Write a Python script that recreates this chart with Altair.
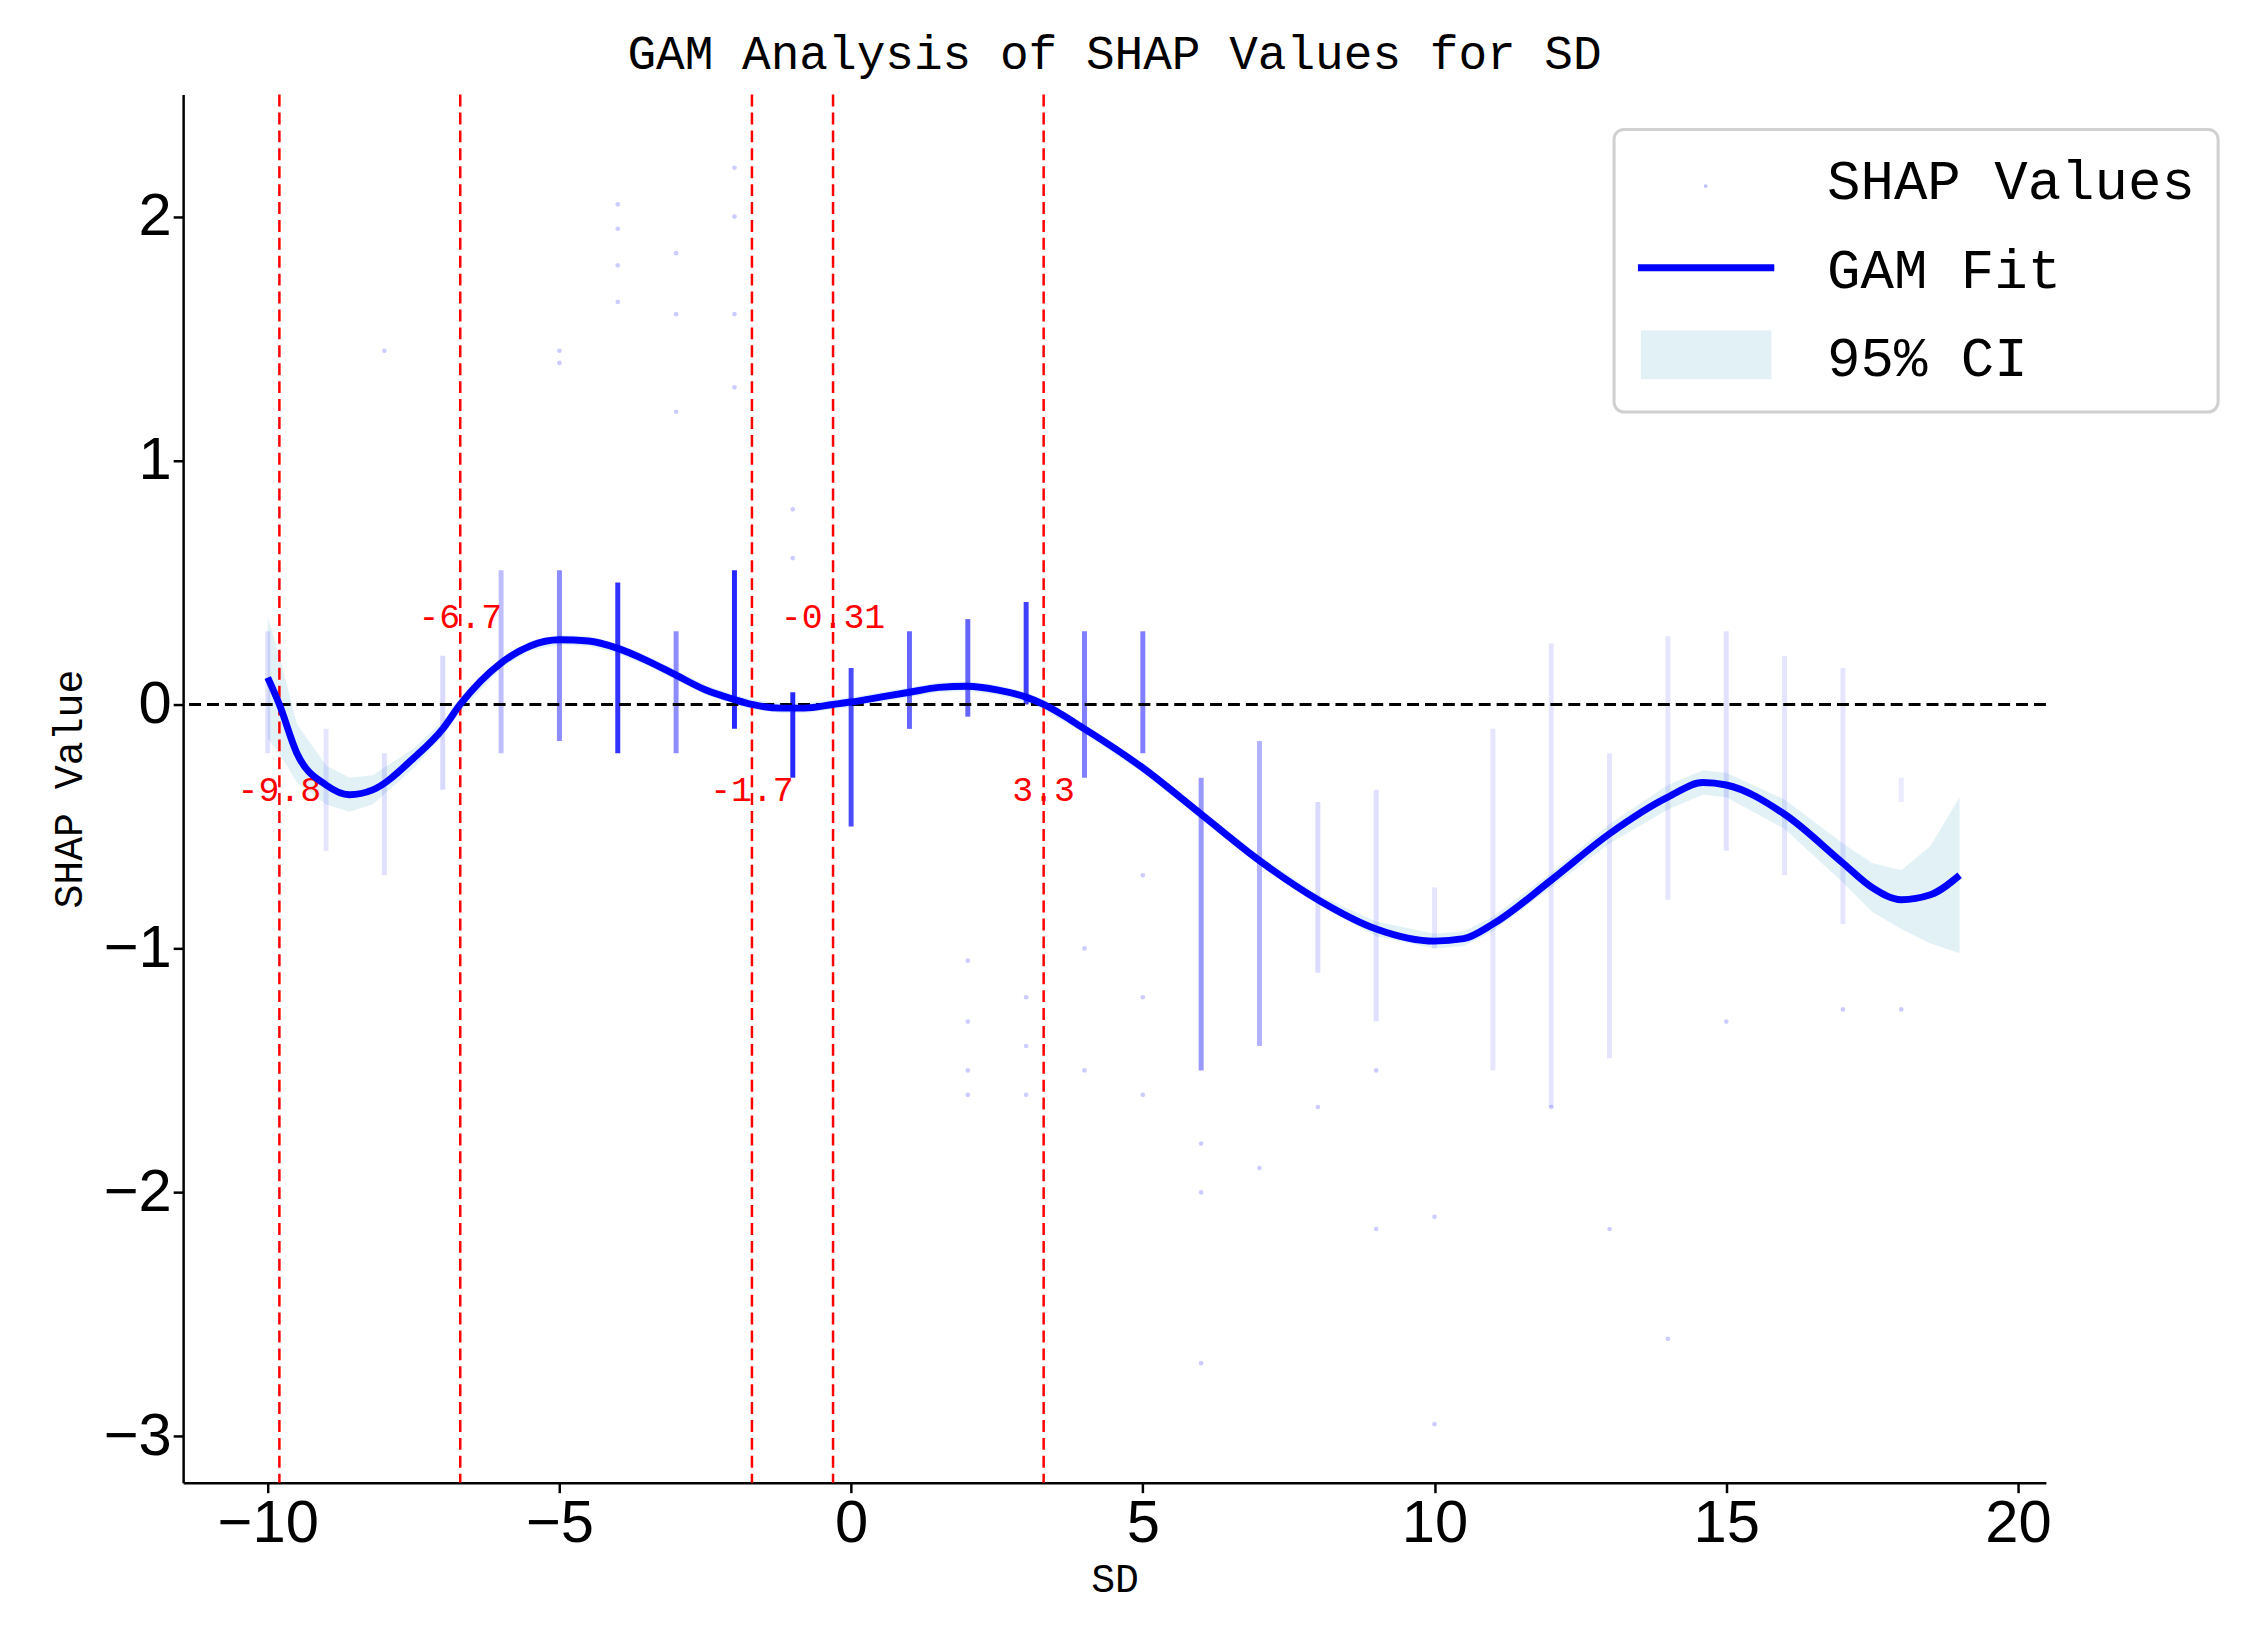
import altair as alt
import pandas as pd

# GAM fit
fit_x = [-10, -9.8, -9.5, -9, -8.6, -8.2, -7.5, -7, -6.7, -6, -5.5, -5, -4.5, -4, -3.5, -3,
         -2.5, -2, -1.7, -1.2, -0.8, -0.31, 0, 0.5, 1, 1.5, 2, 2.5, 3, 3.3, 4, 5, 6, 7, 8,
         9, 10, 10.5, 11, 12, 13, 14, 14.6, 15, 16, 17, 17.5, 18, 18.5, 19]
fit_y = [0.11, 0, -0.2, -0.33, -0.37, -0.35, -0.22, -0.1, 0, 0.17, 0.24, 0.265, 0.26, 0.23,
         0.18, 0.12, 0.06, 0.02, 0, -0.015, -0.015, 0, 0.01, 0.03, 0.05, 0.07, 0.075, 0.06,
         0.03, 0, -0.1, -0.26, -0.45, -0.64, -0.8, -0.92, -0.97, -0.96, -0.9, -0.72, -0.53,
         -0.38, -0.32, -0.33, -0.45, -0.65, -0.75, -0.8, -0.78, -0.7]
ci_half = [0.25, 0.2, 0.12, 0.08, 0.07, 0.06, 0.04, 0.03, 0.03, 0.02, 0.02, 0.02, 0.02, 0.02,
           0.02, 0.02, 0.02, 0.02, 0.02, 0.02, 0.02, 0.02, 0.02, 0.02, 0.02, 0.02, 0.02, 0.02,
           0.02, 0.02, 0.02, 0.02, 0.02, 0.02, 0.02, 0.03, 0.03, 0.03, 0.03, 0.03, 0.04,
           0.05, 0.05, 0.05, 0.06, 0.08, 0.1, 0.12, 0.2, 0.32]

# SHAP columns: dense core ranges per SD value
col_x = [-10, -9, -8, -7, -6, -5, -4, -3, -2, -1, 0, 1, 2, 3, 4, 5,
         6, 7, 8, 9, 10, 11, 12, 13, 14, 15, 16, 17, 18]
col_lo = [-0.2, -0.6, -0.7, -0.35, -0.2, -0.15, -0.2, -0.2, -0.1, -0.3, -0.5, -0.1, -0.05, 0.0,
          -0.3, -0.2, -1.5, -1.4, -1.1, -1.3, -1.0, -1.5, -1.65, -1.45, -0.8, -0.6, -0.7, -0.9, -0.4]
col_hi = [0.3, -0.1, -0.2, 0.2, 0.55, 0.55, 0.5, 0.3, 0.55, 0.05, 0.15, 0.3, 0.35, 0.42,
          0.3, 0.3, -0.3, -0.15, -0.4, -0.35, -0.75, -0.1, 0.25, -0.2, 0.28, 0.3, 0.2, 0.15, -0.3]
col_alpha = [0.12, 0.1, 0.12, 0.15, 0.25, 0.45, 0.8, 0.45, 0.85, 0.85, 0.7, 0.6, 0.6, 0.75,
             0.5, 0.5, 0.4, 0.3, 0.14, 0.12, 0.1, 0.1, 0.1, 0.1, 0.1, 0.12, 0.1, 0.1, 0.08]
# sparse outliers
out_x = [-8, -5, -5, -4, -4, -4, -4, -3, -3, -3, -2, -2, -2, -2, -1, -1, 2, 2, 2, 2, 3, 3, 3,
         4, 4, 5, 5, 5, 6, 6, 6, 7, 8, 9, 9, 10, 10, 12, 13, 14, 15, 17, 18]
out_y = [1.45, 1.4, 1.45, 1.65, 1.8, 1.95, 2.05, 1.2, 1.6, 1.85, 1.3, 1.6, 2.0, 2.2, 0.6, 0.8,
         -1.05, -1.3, -1.5, -1.6, -1.2, -1.4, -1.6, -1.0, -1.5, -0.7, -1.2, -1.6, -1.8, -2.0,
         -2.7, -1.9, -1.65, -1.5, -2.15, -2.1, -2.95, -1.65, -2.15, -2.6, -1.3, -1.25, -1.25]

cut_x = [-9.8, -6.7, -1.7, -0.31, 3.3]
cut_lab = ["-9.8", "-6.7", "-1.7", "-0.31", "3.3"]
cut_ly = [-0.35, 0.36, -0.35, 0.36, -0.35]

W, H = 1872, 1395
fit = pd.DataFrame({"x": fit_x, "y": fit_y,
                    "lo": [a - b for a, b in zip(fit_y, ci_half)],
                    "hi": [a + b for a, b in zip(fit_y, ci_half)]})
cols = pd.DataFrame({"x": col_x, "lo": col_lo, "hi": col_hi, "a": col_alpha})
outs = pd.DataFrame({"x": out_x, "y": out_y})
cuts = pd.DataFrame({"x": cut_x, "lab": cut_lab, "ly": cut_ly})

xs = alt.Scale(domain=[-11.45, 20.48], nice=False, zero=False)
ys = alt.Scale(domain=[-3.19, 2.5], nice=False, zero=False)
X = alt.X("x:Q", scale=xs, title="SD", axis=alt.Axis(values=[-10, -5, 0, 5, 10, 15, 20]))
Y = alt.Y("y:Q", scale=ys, title="SHAP Value",
          axis=alt.Axis(values=[-3, -2, -1, 0, 1, 2], format="d"))

band = alt.Chart(fit).mark_area(color="lightblue", opacity=0.35).encode(
    x=X, y=alt.Y("lo:Q", scale=ys), y2="hi:Q")
cores = alt.Chart(cols).mark_rule(color="blue", strokeWidth=5).encode(
    x=X, y=alt.Y("lo:Q", scale=ys), y2="hi:Q",
    opacity=alt.Opacity("a:Q", scale=None, legend=None))
pts = alt.Chart(outs).mark_circle(color="blue", size=22, opacity=0.2).encode(x=X, y=Y)
zero = alt.Chart(pd.DataFrame({"y": [0]})).mark_rule(
    color="black", strokeDash=[12, 6], strokeWidth=3).encode(y=Y)
vlines = alt.Chart(cuts).mark_rule(color="red", strokeDash=[12, 6], strokeWidth=2.5).encode(x=X)
vlabs = alt.Chart(cuts).mark_text(color="red", font="Liberation Mono", fontSize=35).encode(
    x=X, y=alt.Y("ly:Q", scale=ys), text="lab:N")
line = alt.Chart(fit).mark_line(color="blue", strokeWidth=7, interpolate="monotone").encode(x=X, y=Y)

# legend box
one = pd.DataFrame({"k": [0]})
box = alt.Chart(one).mark_rect(fill="white", stroke="#cccccc", strokeWidth=3,
                               cornerRadius=10, opacity=0.9).encode(
    x=alt.value(1438), x2=alt.value(2045), y=alt.value(35), y2=alt.value(319))
leg_pt = alt.Chart(one).mark_circle(color="blue", size=14, opacity=0.25).encode(
    x=alt.value(1530), y=alt.value(92))
leg_ln = alt.Chart(one).mark_rule(color="blue", strokeWidth=7).encode(
    x=alt.value(1462), x2=alt.value(1599), y=alt.value(174))
leg_rc = alt.Chart(one).mark_rect(fill="lightblue", opacity=0.35).encode(
    x=alt.value(1465), x2=alt.value(1596), y=alt.value(237), y2=alt.value(286))
leg_txt = [alt.Chart(one).mark_text(align="left", baseline="middle", font="Liberation Mono",
                                    fontSize=56).encode(x=alt.value(1652), y=alt.value(py),
                                                        text=alt.value(t))
           for t, py in [("SHAP Values", 88), ("GAM Fit", 177), ("95% CI", 266)]]

chart = alt.layer(band, cores, pts, zero, vlines, vlabs, line, box, leg_pt, leg_ln, leg_rc,
                  *leg_txt).properties(
    width=W, height=H, autosize=alt.AutoSizeParams(type="none"),
    padding={"left": 176, "top": 83, "right": 190, "bottom": 140},
    title=alt.TitleParams("GAM Analysis of SHAP Values for SD", font="Liberation Mono",
                          fontSize=48, fontWeight="normal", offset=14),
).configure_view(stroke=None).configure_axis(
    grid=False, domainColor="black", domainWidth=2.5, tickColor="black", tickWidth=2.5,
    tickSize=10, labelFont="Liberation Sans", labelFontSize=60, labelColor="black",
    titleFont="Liberation Mono", titleFontSize=40, titleFontWeight="normal", titleColor="black"
).configure_axisX(titlePadding=6).configure_axisY(titlePadding=14)

chart.save("out.html", embed_options={"renderer": "svg", "actions": False})
